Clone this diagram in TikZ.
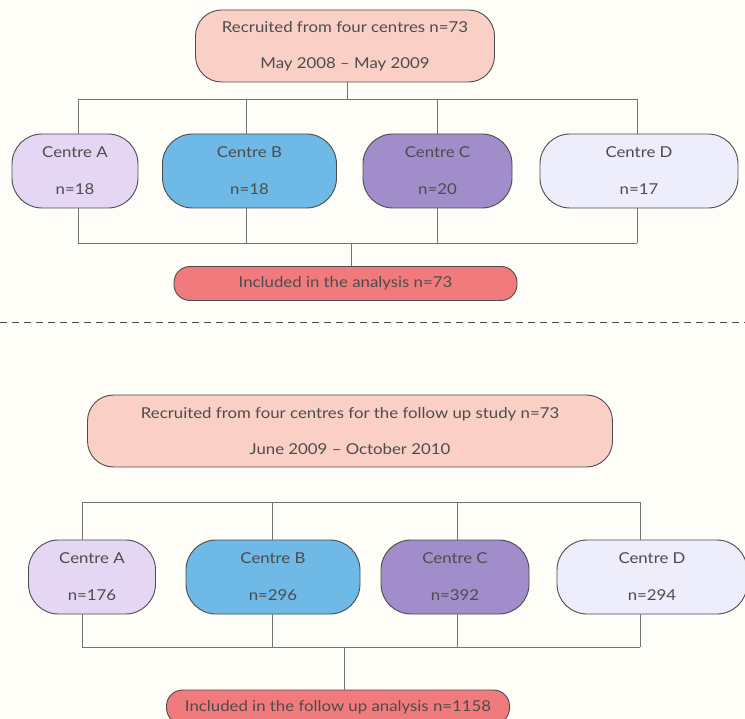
\documentclass[tikz,border=0pt]{standalone}
\usepackage{fontspec}
\setmainfont{Lato}[FakeStretch=1.12]
\begin{document}
\begin{tikzpicture}[x=1pt,y=-1pt,
  every node/.style={font=\fontsize{15}{17}\selectfont, text=black!70},
  boxbase/.style={draw=black!70, line width=0.9pt, align=center, inner sep=0pt},
  topbox/.style={boxbase, fill=toppink, rounded corners=26pt},
  cbox/.style={boxbase, rounded corners=30pt, minimum height=74pt},
  incbox/.style={boxbase, fill=incred, rounded corners=16pt},
  conn/.style={draw=black!55, line width=0.9pt}
]
\definecolor{toppink}{RGB}{250,208,198}
\definecolor{cA}{RGB}{229,214,243}
\definecolor{cB}{RGB}{110,185,230}
\definecolor{cC}{RGB}{162,141,203}
\definecolor{cD}{RGB}{238,237,251}
\definecolor{incred}{RGB}{241,123,124}
\definecolor{bg}{RGB}{254,253,247}
\clip (0,0) rectangle (745,719);
\fill[bg] (0,0) rectangle (745,719);

% ---------- top section ----------
\node[topbox, minimum width=299pt, minimum height=72pt] (top1) at (345,46)
  {Recruited from four centres n=73\\[19pt]May 2008 -- May 2009};
\node[cbox, fill=cA, minimum width=126pt] (A1) at (75,171) {Centre A\\[20pt]n=18};
\node[cbox, fill=cB, minimum width=174pt] (B1) at (249.5,171) {Centre B\\[20pt]n=18};
\node[cbox, fill=cC, minimum width=149pt] (C1) at (437.5,171) {Centre C\\[20pt]n=20};
\node[cbox, fill=cD, minimum width=198pt] (D1) at (639,171) {Centre D\\[20pt]n=17};
\node[incbox, minimum width=343pt, minimum height=34pt] (inc1) at (345.5,283.5) {Included in the analysis n=73};

\coordinate (s1) at (347,99);
\coordinate (a1t) at (78,99);
\coordinate (b1t) at (246,99);
\coordinate (c1t) at (437,99);
\coordinate (d1t) at (637,99);
\coordinate (a1b) at (78,243);
\coordinate (b1b) at (246,243);
\coordinate (c1b) at (437,243);
\coordinate (d1b) at (637,243);
\coordinate (m1) at (351,243);

\draw[conn] (top1.south -| s1) -- (s1);
\draw[conn] (a1t) -- (d1t);
\draw[conn] (a1t) -- (a1t |- A1.north);
\draw[conn] (b1t) -- (b1t |- B1.north);
\draw[conn] (c1t) -- (c1t |- C1.north);
\draw[conn] (d1t) -- (d1t |- D1.north);
\draw[conn] (a1b |- A1.south) -- (a1b);
\draw[conn] (b1b |- B1.south) -- (b1b);
\draw[conn] (c1b |- C1.south) -- (c1b);
\draw[conn] (d1b |- D1.south) -- (d1b);
\draw[conn] (a1b) -- (d1b);
\draw[conn] (m1) -- (m1 |- inc1.north);

% ---------- separator ----------
\coordinate (dl) at (0,323);
\coordinate (dr) at (745,323);
\draw[black!70, line width=1pt, dash pattern=on 7pt off 5pt] (dl) -- (dr);

% ---------- bottom section ----------
\node[topbox, minimum width=525pt, minimum height=72pt] (top2) at (350,431)
  {Recruited from four centres for the follow up study n=73\\[19pt]June 2009 -- October 2010};
\node[cbox, fill=cA, minimum width=127pt] (A2) at (92,577) {Centre A\\[20pt]n=176};
\node[cbox, fill=cB, minimum width=174pt] (B2) at (273,577) {Centre B\\[20pt]n=296};
\node[cbox, fill=cC, minimum width=148pt] (C2) at (455,577) {Centre C\\[20pt]n=392};
\node[cbox, fill=cD, minimum width=190pt] (D2) at (652,577) {Centre D\\[20pt]n=294};
\node[incbox, minimum width=343pt, minimum height=34pt] (inc2) at (338,707) {Included in the follow up analysis n=1158};

\coordinate (a2t) at (82,502);
\coordinate (b2t) at (272,502);
\coordinate (c2t) at (457,502);
\coordinate (d2t) at (640,502);
\coordinate (a2b) at (82,647);
\coordinate (b2b) at (272,647);
\coordinate (c2b) at (457,647);
\coordinate (d2b) at (640,647);
\coordinate (m2) at (344,647);

\draw[conn] (a2t) -- (d2t);
\draw[conn] (a2t) -- (a2t |- A2.north);
\draw[conn] (b2t) -- (b2t |- B2.north);
\draw[conn] (c2t) -- (c2t |- C2.north);
\draw[conn] (d2t) -- (d2t |- D2.north);
\draw[conn] (a2b |- A2.south) -- (a2b);
\draw[conn] (b2b |- B2.south) -- (b2b);
\draw[conn] (c2b |- C2.south) -- (c2b);
\draw[conn] (d2b |- D2.south) -- (d2b);
\draw[conn] (a2b) -- (d2b);
\draw[conn] (m2) -- (m2 |- inc2.north);
\end{tikzpicture}
\end{document}
